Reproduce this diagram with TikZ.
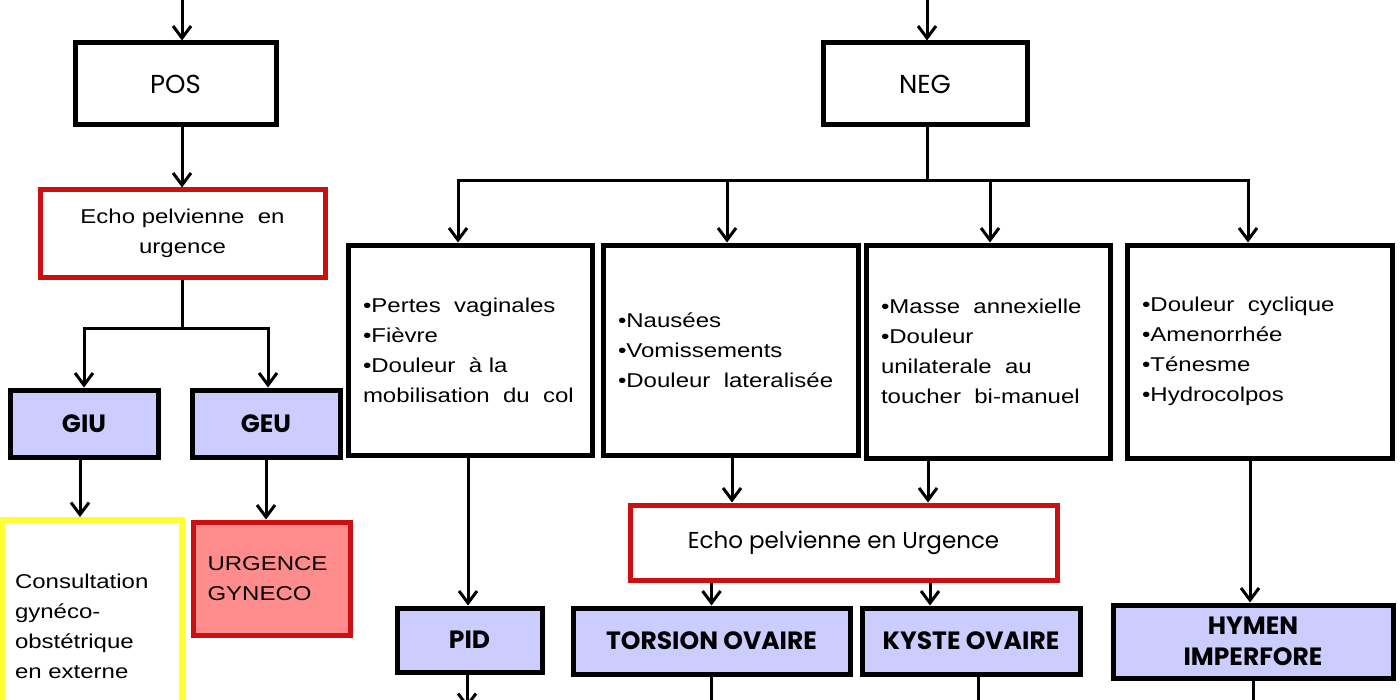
\documentclass[tikz,border=0pt]{standalone}
\usepackage{fontspec}
\setmainfont{Liberation Sans}[FakeStretch=1.2]
\newfontfamily\comic{Poppins}
\usetikzlibrary{arrows.meta}
\usetikzlibrary{shadows}
\usetikzlibrary{math}
\definecolor{echored}{RGB}{204,16,16}
\definecolor{diagblue}{RGB}{204,204,255}
\definecolor{urgpink}{RGB}{255,140,140}
\definecolor{extyellow}{RGB}{255,255,51}

\begin{document}
\begin{tikzpicture}[x=0.5pt,y=-0.5pt,
	box/.style={draw=black,line width=2.5pt,fill=white,inner sep=0pt,
		drop shadow={shadow xshift=1.2pt,shadow yshift=-1.2pt,opacity=0.25}},
	answer/.style={box,font=\comic\fontsize{13}{15}\selectfont},
	echo/.style={box,draw=echored,align=center,font=\fontsize{10}{15}\selectfont},
	diag/.style={box,fill=diagblue,align=center,font=\comic\bfseries\fontsize{12.5}{15.5}\selectfont},
	sympt/.style={box,align=left,font=\fontsize{10}{15}\selectfont},
	arr/.style={line width=1.5pt,-{Straight Barb[length=6pt,width=9pt]}},
	link/.style={line width=1.5pt}]
	\tikzmath{\posx=182; \negx=927; \busy=181; \splity=328;}
	\useasboundingbox (0,0) rectangle (1400,700);
	\clip (0,0) rectangle (1400,700);

	\node[answer, minimum width=100.5pt, minimum height=41pt] (pos) at (175.5,84) {POS};
	\node[answer, minimum width=102pt, minimum height=41pt] (neg) at (925,84) {NEG};
	\node[echo, minimum width=142.5pt, minimum height=43.5pt] (echoA) at (182.5,233.5) {Echo pelvienne\ \ en\\urgence};
	\node[diag, minimum width=74pt, minimum height=33.5pt] (giu) at (84,423.5) {GIU};
	\node[diag, minimum width=74pt, minimum height=33.5pt] (geu) at (266,423.5) {GEU};
	\node[sympt, draw=extyellow, line width=3pt, text width=77pt, minimum width=90pt, minimum height=106pt] (consult) at (92,626) {Consultation\\gynéco-\\obstétrique\\en externe};
	\node[sympt, draw=echored, fill=urgpink, text width=64pt, minimum width=78.5pt, minimum height=56.5pt] (urg) at (271.5,578.5) {URGENCE\\GYNECO};

	\node[sympt, text width=107pt, minimum width=122pt, minimum height=105pt] (pertes) at (470,350) {•Pertes\ \ vaginales\\•Fièvre\\•Douleur\ \ à la\\mobilisation\ \ du\ \ col};
	\node[sympt, text width=112.5pt, minimum width=127.5pt, minimum height=105pt] (nausees) at (730.5,350) {•Nausées\\•Vomissements\\•Douleur\ \ lateralisée};
	\node[sympt, text width=107pt, minimum width=122pt, minimum height=106.5pt] (masse) at (988,351.5) {•Masse\ \ annexielle\\•Douleur\\unilaterale\ \ au\\toucher\ \ bi-manuel};
	\node[sympt, text width=117.5pt, minimum width=132.5pt, minimum height=106.5pt] (cyclique) at (1259.5,351.5) {•Douleur\ \ cyclique\\•Amenorrhée\\•Ténesme\\•Hydrocolpos};

	\node[echo, font=\comic\fontsize{11.5}{14}\selectfont, minimum width=213.5pt, minimum height=37.5pt] (echoB) at (843.5,542.5) {Echo pelvienne en Urgence};
	\node[diag, minimum width=72.5pt, minimum height=32pt] (pid) at (469.5,640) {PID};
	\node[diag, minimum width=138.5pt, minimum height=33pt] (torsion) at (711.5,641) {TORSION OVAIRE};
	\node[diag, minimum width=109pt, minimum height=33pt] (kyste) at (971,641) {KYSTE OVAIRE};
	\node[diag, minimum width=140pt, minimum height=36.5pt] (hymen) at (1253,641.5) {HYMEN\\IMPERFORE};

	\coordinate (topA) at (\posx,-10);
	\coordinate (topB) at (\negx,-10);
	\coordinate (splitA) at (\posx,\splity);
	\coordinate (bus) at (\negx,\busy);
	\coordinate (outA) at (467,708);

	\draw[arr] (topA) -- (topA |- pos.north);
	\draw[arr] (topB) -- (topB |- neg.north);
	\draw[arr] (topA |- pos.south) -- (topA |- echoA.north);
	\draw[link] (topA |- echoA.south) -- (splitA);
	\draw[arr] (splitA) -| (giu.north);
	\draw[arr] (splitA) -| ([xshift=1pt]geu.north);
	\draw[arr] ([xshift=-2pt]giu.south) -- ([xshift=-2pt]giu.south |- consult.north);
	\draw[arr] (geu.south) -- (geu.south |- urg.north);

	\draw[link] (topB |- neg.south) -- (bus);
	\draw[arr] (bus) -| ([xshift=-6pt]pertes.north);
	\draw[arr] (bus) -| ([xshift=-1.75pt]nausees.north);
	\draw[arr] (bus) -| ([xshift=1pt]masse.north);
	\draw[arr] (bus) -| ([xshift=-5.75pt]cyclique.north);

	\draw[arr] ([xshift=-1pt]pertes.south) -- ([xshift=-1pt]pertes.south |- pid.north);
	\draw[arr] ([xshift=0.75pt]nausees.south) -- ([xshift=0.75pt]nausees.south |- echoB.north);
	\draw[arr] ([xshift=-30pt]masse.south) -- ([xshift=-30pt]masse.south |- echoB.north);
	\draw[arr] (torsion.north |- echoB.south) -- (torsion.north);
	\draw[arr] ([xshift=-20.5pt]kyste.north |- echoB.south) -- ([xshift=-20.5pt]kyste.north);
	\draw[arr] ([xshift=-4.75pt]cyclique.south) -- ([xshift=-4.75pt]cyclique.south |- hymen.north);

	\draw[arr] (pid.south -| outA) -- (outA);
	\draw[link] (torsion.south) -- ++(0,40);
	\draw[link] ([xshift=3.5pt]kyste.south) -- ++(0,40);
	\draw[link] (hymen.south) -- ++(0,40);
\end{tikzpicture}
\end{document}
